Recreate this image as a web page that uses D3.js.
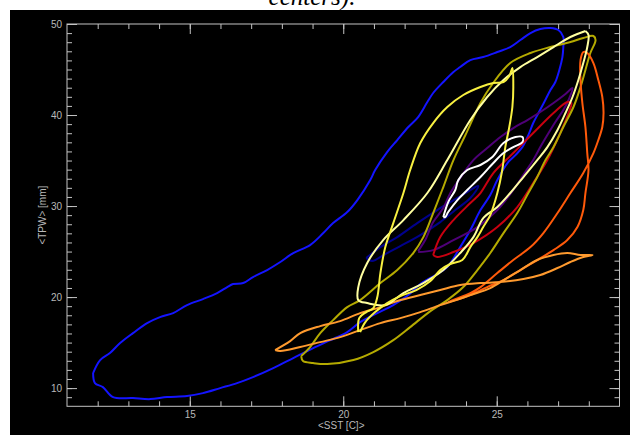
<!DOCTYPE html>
<html><head><meta charset="utf-8">
<script src="https://cdn.jsdelivr.net/npm/d3@7"></script>
<style>html,body{margin:0;padding:0;background:#fff;}svg{display:block;}</style>
</head><body><svg id="c" width="638" height="435"></svg>
<script>
// ---- data (x = <SST> [C], y = <TPW> [mm]) ----
const xDomain = [11, 29];
const yDomain = [8, 50];
const xMajorTicks = [15, 20, 25];
const yMajorTicks = [10, 20, 30, 40, 50];
const xMinorTicks = d3.range(12, 29);
const yMinorTicks = d3.range(9, 50);

const blueSeries = [[11.85,11.65],[11.91,10.55],[12.17,10.11],[12.50,9.01],[13.15,8.90],[13.71,8.79],[14.26,9.01],[14.91,9.12],[15.43,9.45],[15.99,10.00],[16.54,10.55],[17.06,11.21],[17.72,12.20],[18.37,13.30],[19.02,14.40],[19.58,15.27],[20.13,16.15],[20.55,17.25],[21.11,18.24],[21.63,19.12],[22.12,20.22],[22.51,21.43],[23.00,22.42],[23.39,23.30],[23.81,25.49],[24.14,27.36],[24.47,29.56],[24.79,31.21],[25.02,32.86],[25.38,34.84],[25.61,35.60],[25.84,36.48],[26.03,37.80],[26.19,39.12],[26.36,40.22],[26.55,41.43],[26.75,42.75],[26.91,43.63],[27.04,44.95],[27.14,46.37],[27.17,47.47],[27.17,48.57],[27.01,49.34],[26.75,49.56],[26.42,49.45],[26.10,49.01],[25.77,48.24],[25.44,47.47],[25.02,46.92],[24.56,46.37],[24.14,46.04],[23.81,45.27],[23.59,44.73],[23.26,43.63],[22.93,42.42],[22.74,41.43],[22.44,39.78],[22.12,38.68],[21.76,37.25],[21.43,35.93],[21.04,33.96],[20.88,32.86],[20.46,30.66],[20.13,29.34],[19.67,28.13],[19.35,27.03],[18.92,25.71],[18.37,24.84],[17.95,23.85],[17.52,22.97],[17.06,22.20],[16.74,21.54],[16.41,21.43],[16.22,21.10],[15.89,20.44],[15.43,19.78],[14.91,19.12],[14.46,18.24],[14.03,17.80],[13.61,17.14],[13.15,16.04],[12.73,14.95],[12.40,13.85],[12.08,13.08],[11.85,11.65]];

const navySeries = [[20.75,24.29],[21.21,25.49],[21.76,26.59],[22.41,28.13],[23.06,29.56],[23.49,30.44],[23.98,31.43],[24.40,32.20],[24.14,30.88],[23.65,29.56],[23.16,28.24],[22.51,26.81],[21.86,25.60],[21.37,24.73],[20.94,23.96],[20.75,24.29]];

const purpleSeries = [[22.44,25.05],[22.67,26.26],[22.93,28.24],[23.26,29.78],[23.49,31.43],[23.81,33.08],[24.24,35.05],[24.69,36.37],[25.12,37.58],[25.54,38.57],[26.00,39.45],[26.42,40.33],[26.85,41.32],[27.24,42.31],[27.47,42.97],[27.34,41.65],[27.17,40.55],[26.91,39.23],[26.65,37.80],[26.42,36.48],[26.19,35.05],[25.93,33.74],[25.54,31.76],[25.02,29.56],[24.37,27.69],[23.59,26.26],[22.93,25.16],[22.44,24.95]];

const redSeries = [[22.93,24.62],[23.16,26.59],[23.59,28.46],[24.14,30.33],[24.47,31.43],[24.89,33.63],[25.54,35.82],[26.19,38.02],[26.85,40.22],[27.30,41.43],[27.43,41.32],[27.34,40.22],[27.07,38.02],[26.65,35.05],[26.19,32.53],[25.67,29.89],[25.02,27.69],[24.24,25.93],[23.59,24.95],[23.06,24.40],[22.93,24.62]];

const oliveSeries = [[18.63,13.52],[18.92,14.51],[19.25,16.04],[19.67,17.47],[20.13,18.90],[20.55,19.67],[21.21,21.54],[21.76,22.97],[22.28,24.84],[22.61,26.59],[22.93,29.23],[23.26,32.09],[23.59,35.05],[23.98,37.80],[24.47,41.32],[24.86,43.41],[25.44,45.71],[26.10,46.81],[26.75,47.47],[27.40,48.02],[27.82,48.46],[28.15,48.68],[28.22,48.24],[28.05,46.81],[27.89,44.95],[27.73,43.08],[27.50,40.88],[27.17,38.68],[26.85,36.48],[26.59,35.05],[26.32,33.19],[26.03,31.43],[25.67,29.23],[25.22,27.03],[24.79,24.84],[24.37,22.97],[23.91,21.10],[23.39,19.67],[22.84,18.46],[22.18,16.70],[21.63,15.27],[20.98,13.96],[20.33,13.08],[19.48,12.64],[19.02,12.75],[18.69,12.97],[18.63,13.52]];

const orangeRedSeries = [[23.42,19.45],[23.65,19.78],[24.14,20.44],[24.47,21.10],[25.02,22.64],[25.54,24.07],[26.10,25.49],[26.52,27.03],[26.98,29.23],[27.40,31.43],[27.82,33.63],[28.15,35.82],[28.31,37.25],[28.44,38.68],[28.48,40.22],[28.44,41.98],[28.31,43.85],[28.15,45.71],[27.95,46.81],[27.82,46.92],[27.73,46.04],[27.73,43.85],[27.79,41.32],[27.89,38.68],[27.95,35.82],[27.99,33.96],[27.89,31.43],[27.82,29.56],[27.63,27.69],[27.30,26.26],[26.85,25.16],[26.32,24.07],[25.77,22.97],[25.22,21.87],[24.69,21.10],[24.14,20.22],[23.65,19.67],[23.42,19.45]];

const lightOrangeSeries = [[17.78,14.18],[18.27,15.16],[18.60,16.04],[19.25,16.81],[19.90,17.36],[20.55,18.24],[21.21,18.90],[21.86,19.67],[22.51,20.22],[23.16,20.77],[23.81,21.32],[24.47,21.54],[25.12,21.65],[25.87,21.98],[26.42,22.42],[26.98,23.19],[27.40,23.85],[27.82,24.40],[28.12,24.62],[27.73,24.62],[27.30,24.84],[26.85,24.62],[26.32,24.07],[25.77,22.97],[25.28,21.98],[24.79,20.99],[24.14,20.22],[23.68,19.67],[23.16,19.12],[22.51,18.35],[21.86,17.69],[21.21,17.14],[20.55,16.37],[19.90,15.60],[19.25,15.05],[18.60,14.51],[17.95,14.07],[17.78,14.18]];

const paleYellowSeries = [[27.89,49.23],[27.40,48.57],[26.85,47.47],[26.32,46.37],[25.77,45.27],[25.22,43.85],[24.69,41.98],[24.14,39.45],[23.39,35.05],[22.74,31.43],[21.96,28.46],[21.30,26.26],[20.78,23.74],[20.49,21.10],[20.49,19.67],[20.78,19.34],[21.37,19.12],[21.96,20.44],[22.61,21.54],[23.26,22.97],[23.81,24.84],[24.24,26.59],[24.56,28.68],[25.02,29.89],[25.44,31.43],[25.87,33.19],[26.32,35.05],[26.65,36.48],[26.98,38.35],[27.24,40.22],[27.47,41.98],[27.66,43.85],[27.82,45.71],[27.95,47.47],[27.99,48.79],[27.89,49.23]];

const yellowSeries = [[20.49,16.15],[20.52,17.69],[20.75,18.35],[20.98,18.79],[21.11,20.00],[21.21,22.64],[21.37,25.49],[21.63,28.13],[21.96,31.43],[22.18,33.96],[22.51,36.92],[22.93,39.12],[23.39,40.88],[23.91,42.20],[24.47,43.08],[24.89,43.52],[25.22,43.63],[25.41,44.29],[25.51,45.16],[25.54,43.08],[25.51,40.88],[25.41,38.68],[25.28,36.48],[25.18,33.96],[25.02,31.43],[24.79,29.01],[24.56,27.69],[24.37,26.59],[24.14,25.49],[23.88,24.07],[23.49,23.63],[23.16,22.97],[22.84,21.76],[22.38,20.77],[21.86,20.11],[21.43,19.34],[21.04,18.35],[20.72,17.25],[20.55,16.15]];

const whiteSeries = [[23.26,28.79],[23.42,30.44],[23.65,31.76],[23.75,32.86],[24.04,33.96],[24.47,34.51],[24.86,35.38],[25.22,36.92],[25.61,37.58],[25.84,37.58],[25.84,37.03],[25.54,36.48],[25.22,35.82],[24.89,34.73],[24.47,33.19],[24.04,31.76],[23.72,30.66],[23.42,29.34],[23.32,28.79],[23.26,28.79]];

const series = [
  {pts: blueSeries, color: "#1414ff"},
  {pts: navySeries, color: "#00008c"},
  {pts: purpleSeries, color: "#4e0078"},
  {pts: redSeries, color: "#c80010"},
  {pts: oliveSeries, color: "#b4aa00"},
  {pts: orangeRedSeries, color: "#ff5a0a"},
  {pts: lightOrangeSeries, color: "#ff9a2e"},
  {pts: paleYellowSeries, color: "#ffffa0"},
  {pts: yellowSeries, color: "#f8f040"},
  {pts: whiteSeries, color: "#ffffff"}
];

const titleText = "centers).";
const xLabel = "<SST [C]>";
const yLabel = "<TPW> [mm]";

// ---- drawing ----
const svg = d3.select("#c");
svg.append("rect").attr("x", 10).attr("y", 10).attr("width", 620).attr("height", 425).attr("fill", "#000");
svg.append("text").attr("x", 312).attr("y", 5).attr("text-anchor", "middle")
  .attr("font-family", "Liberation Serif").attr("font-style", "italic").attr("font-size", 25)
  .attr("fill", "#000").text(titleText);

const L = 67, R = 619.5, T = 24, B = 406.3;
const x = d3.scaleLinear().domain(xDomain).range([L, R]);
const y = d3.scaleLinear().domain(yDomain).range([B, T]);

const axisColor = "#c4c4c4";
function styleAxis(g) {
  g.select(".domain").remove();
  g.selectAll(".tick line").attr("stroke", axisColor).attr("stroke-width", 1);
  g.selectAll(".tick text").attr("fill", "#b8b8b8").attr("font-family", "Liberation Sans").attr("font-size", 10);
}
// minor ticks
svg.append("g").attr("transform", `translate(0,${B})`).call(d3.axisBottom(x).tickValues(xMinorTicks).tickSize(-5).tickFormat("")).call(styleAxis);
svg.append("g").attr("transform", `translate(0,${T})`).call(d3.axisTop(x).tickValues(xMinorTicks).tickSize(-5).tickFormat("")).call(styleAxis);
svg.append("g").attr("transform", `translate(${L},0)`).call(d3.axisLeft(y).tickValues(yMinorTicks).tickSize(-5).tickFormat("")).call(styleAxis);
svg.append("g").attr("transform", `translate(${R},0)`).call(d3.axisRight(y).tickValues(yMinorTicks).tickSize(-5).tickFormat("")).call(styleAxis);
// major ticks
svg.append("g").attr("transform", `translate(0,${B})`).call(d3.axisBottom(x).tickValues(xMajorTicks).tickSize(-10).tickPadding(5)).call(styleAxis);
svg.append("g").attr("transform", `translate(0,${T})`).call(d3.axisTop(x).tickValues(xMajorTicks).tickSize(-10).tickFormat("")).call(styleAxis);
svg.append("g").attr("transform", `translate(${L},0)`).call(d3.axisLeft(y).tickValues(yMajorTicks).tickSize(-10).tickPadding(5)).call(styleAxis);
svg.append("g").attr("transform", `translate(${R},0)`).call(d3.axisRight(y).tickValues(yMajorTicks).tickSize(-10).tickFormat("")).call(styleAxis);

const line = d3.line().x(d => x(d[0])).y(d => y(d[1])).curve(d3.curveCatmullRom.alpha(0.5));
svg.append("g").selectAll("path").data(series).join("path")
  .attr("d", d => line(d.pts)).attr("fill", "none")
  .attr("stroke", d => d.color).attr("stroke-width", 2).attr("stroke-linejoin", "round");

svg.append("rect").attr("x", L).attr("y", T).attr("width", R - L).attr("height", B - T)
  .attr("fill", "none").attr("stroke", axisColor).attr("stroke-width", 1);

svg.append("text").attr("x", (L + R) / 2 - 2).attr("y", 429).attr("text-anchor", "middle")
  .attr("fill", "#b8b8b8").attr("font-family", "Liberation Sans").attr("font-size", 10).text(xLabel);
svg.append("text").attr("transform", `translate(46,${(T + B) / 2}) rotate(-90)`).attr("text-anchor", "middle")
  .attr("fill", "#b8b8b8").attr("font-family", "Liberation Sans").attr("font-size", 10).text(yLabel);
</script></body></html>
